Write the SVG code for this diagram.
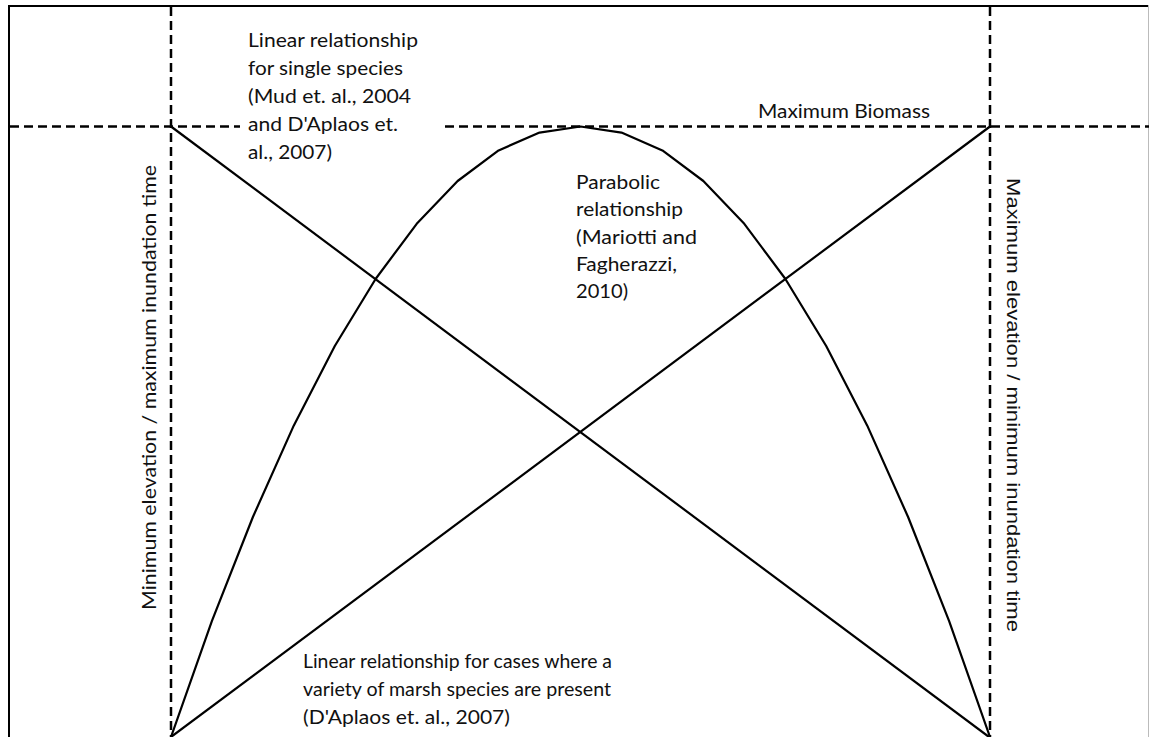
<svg xmlns="http://www.w3.org/2000/svg" width="1149" height="737" viewBox="0 0 1149 737">
<style>
.frame{stroke:#000;stroke-width:2;fill:none}
.dash{stroke:#000;stroke-width:2.5;stroke-dasharray:9 5;fill:none}
.solid{stroke:#000;stroke-width:2.2;fill:none;stroke-linejoin:round}
.t{font-family:"Lato","Open Sans","Liberation Sans",sans-serif;font-size:18.5px;fill:#111}
</style>
<rect width="1149" height="737" fill="#fff"/>
<g id="frame">
<line class="frame" x1="8" y1="6" x2="1149" y2="6"/>
<line class="frame" x1="9" y1="5" x2="9" y2="737"/>
<line x1="1148.5" y1="5" x2="1148.5" y2="737" stroke="#bbb" stroke-width="1"/>
</g>
<g id="connectors">
<line class="dash" x1="10" y1="126.5" x2="240" y2="126.5"/>
<line class="dash" x1="445" y1="126.5" x2="1149" y2="126.5"/>
<line class="dash" x1="171" y1="7" x2="171" y2="737"/>
<line class="dash" x1="990" y1="7" x2="990" y2="737"/>
<line class="solid" x1="171" y1="126.5" x2="989" y2="737"/>
<line class="solid" x1="171" y1="737" x2="990" y2="126.5"/>
<polyline class="solid" points="171,737 211.95,620.9 252.9,517 293.85,425.4 334.8,346 375.75,278.75 416.7,223.8 457.65,181 498.6,150.4 539.55,132.6 580.5,126.5 621.45,132.6 662.4,150.4 703.35,181 744.3,223.8 785.25,278.75 826.2,346 867.15,425.4 908.1,517 949.05,620.9 990,737"/>
</g>
<g id="label-single-species">
<text class="t" x="248" y="47" textLength="170" lengthAdjust="spacingAndGlyphs">Linear relationship</text>
<text class="t" x="248" y="75" textLength="155" lengthAdjust="spacingAndGlyphs">for single species</text>
<text class="t" x="248" y="103" textLength="163" lengthAdjust="spacingAndGlyphs">(Mud et. al., 2004</text>
<text class="t" x="248" y="131" textLength="150" lengthAdjust="spacingAndGlyphs">and D'Aplaos et.</text>
<text class="t" x="248" y="159" textLength="84" lengthAdjust="spacingAndGlyphs">al., 2007)</text>
</g>
<g id="label-parabolic">
<text class="t" x="576" y="189" textLength="84" lengthAdjust="spacingAndGlyphs">Parabolic</text>
<text class="t" x="576" y="216" textLength="107" lengthAdjust="spacingAndGlyphs">relationship</text>
<text class="t" x="576" y="243.5" textLength="121" lengthAdjust="spacingAndGlyphs">(Mariotti and</text>
<text class="t" x="576" y="271" textLength="101" lengthAdjust="spacingAndGlyphs">Fagherazzi,</text>
<text class="t" x="576" y="298" textLength="52" lengthAdjust="spacingAndGlyphs">2010)</text>
</g>
<g id="label-max-biomass">
<text class="t" x="758" y="118" textLength="172" lengthAdjust="spacingAndGlyphs">Maximum Biomass</text>
</g>
<g id="label-variety">
<text class="t" x="303" y="668" textLength="309" lengthAdjust="spacingAndGlyphs">Linear relationship for cases where a</text>
<text class="t" x="303" y="696" textLength="308" lengthAdjust="spacingAndGlyphs">variety of marsh species are present</text>
<text class="t" x="303" y="724" textLength="207" lengthAdjust="spacingAndGlyphs">(D'Aplaos et. al., 2007)</text>
</g>
<g id="label-min-elevation">
<text class="t" transform="translate(156,610) rotate(-90)" x="0" y="0" textLength="445" lengthAdjust="spacingAndGlyphs">Minimum elevation / maximum inundation time</text>
</g>
<g id="label-max-elevation">
<text class="t" transform="translate(1007,178) rotate(90)" x="0" y="0" textLength="454" lengthAdjust="spacingAndGlyphs" style="font-family:'Liberation Sans',Arial,sans-serif;font-size:18px">Maximum elevation / minimum inundation time</text>
</g>
</svg>
